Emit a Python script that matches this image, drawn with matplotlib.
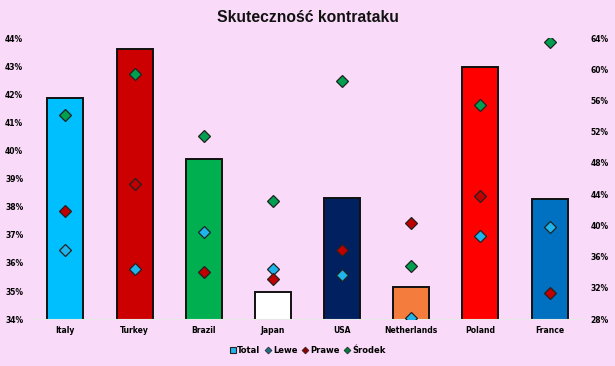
import matplotlib
matplotlib.use("Agg")
import matplotlib.pyplot as plt
from matplotlib.ticker import FuncFormatter
from matplotlib.lines import Line2D
from matplotlib.patches import Patch

countries = ["Italy", "Turkey", "Brazil", "Japan", "USA", "Netherlands", "Poland", "France"]
total = [41.85, 43.6, 39.68, 34.95, 38.3, 35.16, 42.96, 38.26]
lewe = [36.8, 34.4, 39.2, 34.4, 33.7, 28.1, 38.6, 39.8]
prawe = [41.9, 45.3, 34.0, 33.2, 36.85, 40.3, 43.8, 31.3]
srodek = [54.1, 59.4, 51.5, 43.1, 58.5, 34.75, 55.4, 63.5]
bar_colors = ["#00BFFF", "#CC0000", "#00B050", "#FFFFFF", "#002060", "#F47C3C", "#FF0000", "#0070C0"]

bg = "#F9DAF8"
fig = plt.figure(figsize=(6.15, 3.66), dpi=100, facecolor=bg)
ax = fig.add_axes([0.05, 0.128, 0.9, 0.768])
ax.set_facecolor(bg)
x = list(range(len(countries)))
ax.bar(x, total, width=0.52, color=bar_colors, edgecolor="#111111", linewidth=1.4, zorder=2)
ax.set_ylim(34, 44)
ax.set_xlim(-0.5, len(countries) - 0.5)
ax.set_yticks(range(34, 45))
ax.yaxis.set_major_formatter(FuncFormatter(lambda v, p: f"{v:.0f}%"))
ax.set_xticks(x)
ax.set_xticklabels(countries)
for s in ["top", "right", "left"]:
    ax.spines[s].set_visible(False)
ax.spines["bottom"].set_color("#E8E8E8")
ax.tick_params(axis="x", length=0, labelsize=5.5, pad=5)
ax.tick_params(axis="y", length=0, labelsize=5.5, pad=18.5)
for lab in ax.get_xticklabels() + ax.get_yticklabels():
    lab.set_fontweight("bold")
for lab in ax.get_yticklabels():
    lab.set_horizontalalignment("left")

ax2 = ax.twinx()
ax2.set_ylim(28, 64)
ax2.set_yticks(range(28, 65, 4))
ax2.yaxis.set_major_formatter(FuncFormatter(lambda v, p: f"{v:.0f}%"))
for s in ["top", "right", "left", "bottom"]:
    ax2.spines[s].set_visible(False)
ax2.tick_params(axis="y", length=0, labelsize=5.5, pad=4.5)
for lab in ax2.get_yticklabels():
    lab.set_fontweight("bold")

mk = dict(marker="D", linestyle="none", markersize=6, markeredgecolor="#222222", markeredgewidth=0.9, zorder=5)
ax2.plot(x, lewe, markerfacecolor="#1EB4EC", **mk)
ax2.plot(x, prawe, markerfacecolor="#C00000", **mk)
ax2.plot(x, srodek, markerfacecolor="#00A050", **mk)

fig.suptitle("Skuteczność kontrataku", x=0.5, y=0.972, fontsize=11.3, fontweight="bold", color="#111111",
             fontfamily="Liberation Sans")

handles = [
    Patch(facecolor="#1EB4EC", edgecolor="#222222", linewidth=0.8),
    Line2D([], [], marker="D", linestyle="none", markersize=3.5, markerfacecolor="#1E6E8C", markeredgecolor="#222222", markeredgewidth=0.5),
    Line2D([], [], marker="D", linestyle="none", markersize=3.5, markerfacecolor="#8B0000", markeredgecolor="#222222", markeredgewidth=0.5),
    Line2D([], [], marker="D", linestyle="none", markersize=3.5, markerfacecolor="#007A3D", markeredgecolor="#222222", markeredgewidth=0.5),
]
leg = fig.legend(handles, ["Total", "Lewe", "Prawe", "Środek"], loc="center", bbox_to_anchor=(0.5, 0.043),
                 ncol=4, frameon=False, handlelength=0.7, handletextpad=0.2, columnspacing=0.6,
                 prop={"weight": "bold", "size": 6})
fig.savefig("out.png", dpi=100, facecolor=bg)
